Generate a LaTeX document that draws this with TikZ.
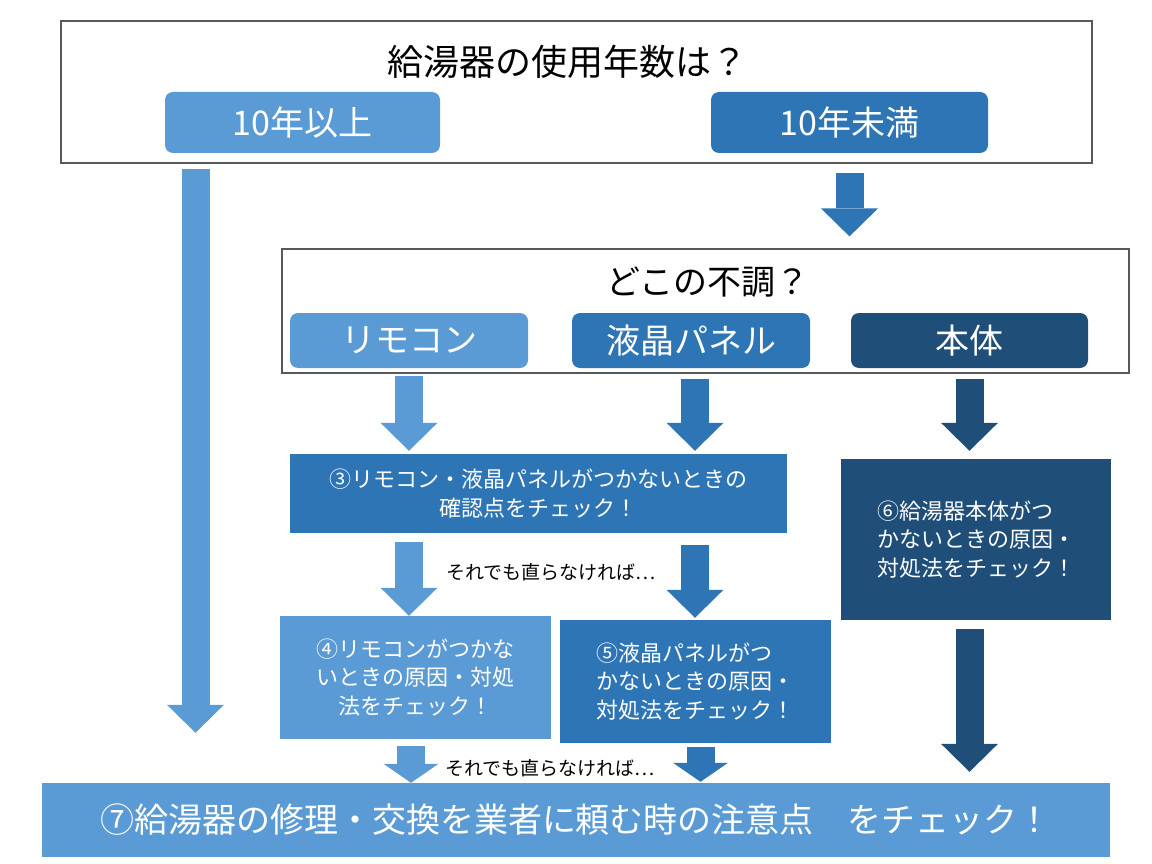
\documentclass[tikz,border=0pt]{standalone}
\usepackage{fontspec}
\setmainfont{Noto Sans CJK JP}
\usetikzlibrary{arrows.meta}
\definecolor{paleblue}{RGB}{91,155,213}
\definecolor{midblue}{RGB}{46,117,182}
\definecolor{deepblue}{RGB}{31,78,121}
\definecolor{framegray}{RGB}{89,89,89}
\tikzset{
  frame/.style={draw=framegray, line width=1.2pt, inner sep=0pt},
  choice/.style={rounded corners=8pt, fill=#1, text=white, inner sep=0pt,
    font=\fontsize{34pt}{40pt}\selectfont},
  checkbox/.style={fill=#1, text=white, inner sep=0pt,
    font=\fontsize{22pt}{28.5pt}\selectfont},
  retry/.style={font=\fontsize{19pt}{23pt}\selectfont},
  blockarrow/.style={draw=#1, line width=28pt,
    -{Triangle[width=57pt,length=28pt,line width=0pt]}},
  shortarrow/.style={draw=#1, line width=28pt,
    -{Triangle[width=55pt,length=19pt,line width=0pt]}}
}
\begin{document}
\begin{tikzpicture}[x=1pt,y=-1pt]
    \useasboundingbox (0,0) rectangle (1152,864);
    \node[frame, minimum width=1031pt, minimum height=142pt] (ageframe) at (576.5,92) {};
    \node[font=\fontsize{36pt}{43pt}\selectfont] (agetitle) at (567,62) {給湯器の使用年数は？};
    \node[choice=paleblue, minimum width=275pt, minimum height=61pt] (over10) at (302.5,122.5) {10年以上};
    \node[choice=midblue, minimum width=277pt, minimum height=61pt] (under10) at (849.5,122.5) {10年未満};
    \node[frame, minimum width=847pt, minimum height=124pt] (partframe) at (705.5,311) {};
    \node[font=\fontsize{34pt}{40pt}\selectfont] (parttitle) at (708,282) {どこの不調？};
    \node[choice=paleblue, minimum width=238pt, minimum height=55pt] (remote) at (409,340.5) {リモコン};
    \node[choice=midblue, minimum width=238pt, minimum height=55pt] (panel) at (691,340.5) {液晶パネル};
    \node[choice=deepblue, minimum width=237pt, minimum height=55pt] (body) at (969.5,340.5) {本体};
    \node[checkbox=midblue, minimum width=497pt, minimum height=79pt, align=center] (check3) at (538.5,493.5)
        {③リモコン・液晶パネルがつかないときの\\確認点をチェック！};
    \node[checkbox=deepblue, minimum width=270pt, minimum height=161pt, align=left] (check6) at (976,539.5)
        {⑥給湯器本体がつ\\かないときの原因・\\対処法をチェック！};
    \node[checkbox=paleblue, minimum width=271pt, minimum height=123pt, align=center] (check4) at (415.5,677.5)
        {④リモコンがつかな\\いときの原因・対処\\法をチェック！};
    \node[checkbox=midblue, minimum width=271pt, minimum height=123pt, align=left] (check5) at (695.5,681.5)
        {⑤液晶パネルがつ\\かないときの原因・\\対処法をチェック！};
    \node[checkbox=paleblue, minimum width=1068pt, minimum height=74pt,
        font=\fontsize{34pt}{40pt}\selectfont] (check7) at (576,820)
        {⑦給湯器の修理・交換を業者に頼む時の注意点　をチェック！};
    \node[retry] (retry1) at (551,572) {それでも直らなければ…};
    \node[retry] (retry2) at (550,768) {それでも直らなければ…};
    \coordinate (longstart) at (195.5,169);
    \coordinate (under10start) at (849.5,173);
    \coordinate (remotestart) at (409,376);
    \coordinate (panelstart) at (695,379);
    \coordinate (bodystart) at (969.5,379);
    \coordinate (check4start) at (409,542);
    \coordinate (check5start) at (695,545);
    \coordinate (check6start) at (969.5,629);
    \coordinate (lastleft) at (411,746);
    \coordinate (lastright) at (700.5,747);
    \draw[blockarrow=paleblue, shorten >=50pt] (longstart) -- (longstart |- check7.north);
    \draw[blockarrow=midblue, shorten >=12pt] (under10start) -- (under10start |- partframe.north);
    \draw[blockarrow=paleblue, shorten >=3pt] (remotestart) -- (remotestart |- check3.north);
    \draw[blockarrow=midblue, shorten >=3pt] (panelstart) -- (panelstart |- check3.north);
    \draw[blockarrow=deepblue, shorten >=8pt] (bodystart) -- (bodystart |- check6.north);
    \draw[blockarrow=paleblue] (check4start) -- (check4start |- check4.north);
    \draw[blockarrow=midblue, shorten >=2pt] (check5start) -- (check5start |- check5.north);
    \draw[blockarrow=deepblue, shorten >=11pt] (check6start) -- (check6start |- check7.north);
    \draw[shortarrow=paleblue] (lastleft) -- (lastleft |- check7.north);
    \draw[shortarrow=midblue, shorten >=1pt] (lastright) -- (lastright |- check7.north);
\end{tikzpicture}
\end{document}
